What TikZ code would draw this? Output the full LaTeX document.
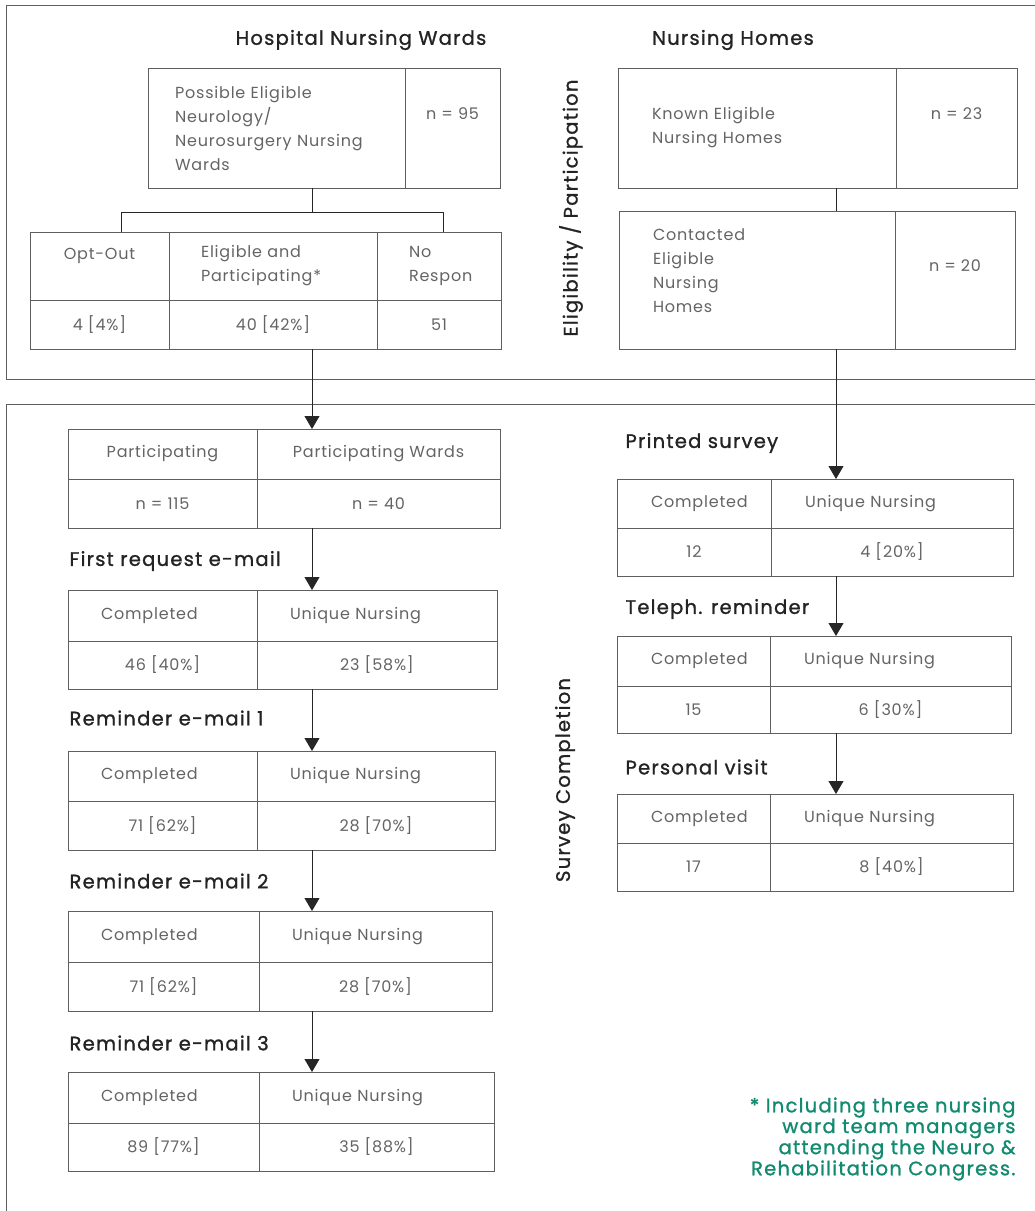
\documentclass[tikz,border=0pt]{standalone}
\usepackage{fontspec}
\setmainfont{Poppins}[LetterSpace=5]
\newfontfamily\headfont{Poppins}[LetterSpace=6.5, FakeBold=1.2]
\usetikzlibrary{positioning, arrows.meta}
\definecolor{linegray}{RGB}{95,95,95}
\definecolor{cellgray}{RGB}{100,100,100}
\definecolor{headblack}{RGB}{35,35,35}
\definecolor{noteteal}{RGB}{18,138,112}
\hyphenpenalty=10000
\exhyphenpenalty=10000
\tikzset{
cell/.style={
    draw=linegray,
    line width=0.9pt,
    inner sep=0pt,
    outer sep=0pt,
    text=cellgray,
    align=center,
    font=\fontsize{16}{24}\selectfont
},
hcell/.style={
    cell,
    align=left,
    inner xsep=33pt,
    text width=#1
},
ncell/.style={
    cell,
    text depth=28pt
},
title/.style={
    font=\headfont\fontsize{19.5}{22}\selectfont,
    text=headblack
},
stage/.style={
    title,
    anchor=west
},
link/.style={
    draw=black!85,
    line width=0.9pt
},
flow/.style={
    link,
    -{Triangle[width=15pt,length=13pt]}
},
frame/.style={
    draw=linegray,
    line width=0.9pt
}
}

\begin{document}
\begin{tikzpicture}[x=1pt, y=-1pt]
\useasboundingbox (0,0) rectangle (1035,1211);

% PANELS
\draw[frame] (1040,5) -- (6,5) -- (6,379) -- (1040,379);
\draw[frame] (1040,404) -- (6,404) -- (6,1215);

\node[title, rotate=90] (eligside) at (571,208) {Eligibility / Participation};
\node[title, rotate=90] (survside) at (565,780) {Survey Completion};

\coordinate (spine) at (312,0);
\coordinate (homespine) at (836,0);

% TOP LEFT: HOSPITAL WARDS
\node[title] (hosp) at (361,40) {Hospital Nursing Wards};

\node[hcell=203pt, inner xsep=27pt, minimum height=120pt, anchor=north west] (poss) at (148,68) {
Possible Eligible\\Neurology/\\Neurosurgery Nursing\\Wards};
\node[ncell, minimum width=95pt, minimum height=120pt, right=0pt of poss] (possn) {n = 95};

\node[cell, minimum width=139pt, minimum height=68pt, anchor=north west] (optout) at (30,232) {Opt-Out\\~};
\node[hcell=144pt, inner xsep=32pt, minimum height=68pt, right=0pt of optout] (elig) {Eligible and\\Participating*};
\node[hcell=60pt, inner xsep=32pt, minimum height=68pt, right=0pt of elig] (noresp) {No\\Respon};
\node[cell, minimum width=139pt, minimum height=49pt, below=0pt of optout] (optoutv) {4 [4\%]};
\node[cell, minimum width=208pt, minimum height=49pt, below=0pt of elig] (eligv) {40 [42\%]};
\node[cell, minimum width=124pt, minimum height=49pt, below=0pt of noresp] (norespv) {51};

\coordinate (forkl) at (121,212);
\coordinate (forkr) at (443,212);
\draw[link] (poss.south -| spine) -- (spine |- forkl);
\draw[link] (forkl |- optout.north) -- (forkl) -- (forkr) -- (forkr |- noresp.north);

% TOP RIGHT: NURSING HOMES
\node[title] (homes) at (733,40) {Nursing Homes};

\node[hcell=210pt, inner xsep=34pt, minimum height=120pt, anchor=north west] (known) at (618,68) {
Known Eligible\\Nursing Homes};
\node[ncell, minimum width=121pt, minimum height=120pt, right=0pt of known] (knownn) {n = 23};

\node[hcell=208pt, inner xsep=34pt, minimum height=138pt, anchor=north west] (contact) at (619,211) {
Contacted\\Eligible\\Nursing\\Homes\\[-6pt]~};
\node[ncell, minimum width=120pt, minimum height=138pt, right=0pt of contact] (contactn) {n = 20};

\draw[link] (known.south -| homespine) -- (contact.north -| homespine);

% BOTTOM LEFT: E-MAIL ROUNDS
\node[cell, minimum width=189pt, minimum height=50pt, anchor=north west] (pstaff) at (68,429) {Participating};
\node[cell, minimum width=243pt, minimum height=50pt, right=0pt of pstaff] (pward) {Participating Wards};
\node[cell, minimum width=189pt, minimum height=49pt, below=0pt of pstaff] (pstaffv) {n = 115};
\node[cell, minimum width=243pt, minimum height=49pt, below=0pt of pward] (pwardv) {n = 40};

\node[stage] (first) at (66,561) {First request e-mail};
\node[hcell=123pt, minimum height=51pt, anchor=north west] (firstc) at (68,590) {Completed};
\node[hcell=174pt, minimum height=51pt, right=0pt of firstc] (firstu) {Unique Nursing};
\node[cell, minimum width=189pt, minimum height=48pt, below=0pt of firstc] (firstcv) {46 [40\%]};
\node[cell, minimum width=240pt, minimum height=48pt, below=0pt of firstu] (firstuv) {23 [58\%]};

\node[stage] (remone) at (66,718) {Reminder e-mail 1};
\node[hcell=123pt, minimum height=50pt, anchor=north west] (remonec) at (68,751) {Completed};
\node[hcell=172pt, minimum height=50pt, right=0pt of remonec] (remoneu) {Unique Nursing};
\node[cell, minimum width=189pt, minimum height=49pt, below=0pt of remonec] (remonecv) {71 [62\%]};
\node[cell, minimum width=238pt, minimum height=49pt, below=0pt of remoneu] (remoneuv) {28 [70\%]};

\node[stage] (remtwo) at (66,881) {Reminder e-mail 2};
\node[hcell=125pt, minimum height=51pt, anchor=north west] (remtwoc) at (68,911) {Completed};
\node[hcell=167pt, minimum height=51pt, right=0pt of remtwoc] (remtwou) {Unique Nursing};
\node[cell, minimum width=191pt, minimum height=49pt, below=0pt of remtwoc] (remtwocv) {71 [62\%]};
\node[cell, minimum width=233pt, minimum height=49pt, below=0pt of remtwou] (remtwouv) {28 [70\%]};

\node[stage] (remthree) at (66,1043) {Reminder e-mail 3};
\node[hcell=125pt, minimum height=51pt, anchor=north west] (remthreec) at (68,1072) {Completed};
\node[hcell=169pt, minimum height=51pt, right=0pt of remthreec] (remthreeu) {Unique Nursing};
\node[cell, minimum width=191pt, minimum height=48pt, below=0pt of remthreec] (remthreecv) {89 [77\%]};
\node[cell, minimum width=235pt, minimum height=48pt, below=0pt of remthreeu] (remthreeuv) {35 [88\%]};

% BOTTOM RIGHT: PAPER ROUNDS
\node[stage] (printed) at (622,443) {Printed survey};
\node[hcell=86pt, inner xsep=34pt, minimum height=49pt, anchor=north west] (printedc) at (617,479) {Completed};
\node[hcell=174pt, inner xsep=34pt, minimum height=49pt, right=0pt of printedc] (printedu) {Unique Nursing};
\node[cell, minimum width=154pt, minimum height=48pt, below=0pt of printedc] (printedcv) {12};
\node[cell, minimum width=242pt, minimum height=48pt, below=0pt of printedu] (printeduv) {4 [20\%]};

\node[stage] (phone) at (622,609) {Teleph. reminder};
\node[hcell=85pt, inner xsep=34pt, minimum height=50pt, anchor=north west] (phonec) at (617,636) {Completed};
\node[hcell=173pt, inner xsep=34pt, minimum height=50pt, right=0pt of phonec] (phoneu) {Unique Nursing};
\node[cell, minimum width=153pt, minimum height=47pt, below=0pt of phonec] (phonecv) {15};
\node[cell, minimum width=241pt, minimum height=47pt, below=0pt of phoneu] (phoneuv) {6 [30\%]};

\node[stage] (visit) at (622,767) {Personal visit};
\node[hcell=85pt, inner xsep=34pt, minimum height=49pt, anchor=north west] (visitc) at (617,794) {Completed};
\node[hcell=175pt, inner xsep=34pt, minimum height=49pt, right=0pt of visitc] (visitu) {Unique Nursing};
\node[cell, minimum width=153pt, minimum height=48pt, below=0pt of visitc] (visitcv) {17};
\node[cell, minimum width=243pt, minimum height=48pt, below=0pt of visitu] (visituv) {8 [40\%]};

% FOOTNOTE
\node[font=\headfont\fontsize{19.5}{18.5}\selectfont, text=noteteal, align=right, anchor=east] (note) at (1019,1139) {
* Including three nursing\\ward team managers\\attending the Neuro \&\\Rehabilitation Congress.};

% ARROWS
\draw[flow] (eligv.south -| spine) -- (pward.north -| spine);
\draw[flow] (pwardv.south -| spine) -- (firstu.north -| spine);
\draw[flow] (firstuv.south -| spine) -- (remoneu.north -| spine);
\draw[flow] (remoneuv.south -| spine) -- (remtwou.north -| spine);
\draw[flow] (remtwouv.south -| spine) -- (remthreeu.north -| spine);
\draw[flow] (contact.south -| homespine) -- (printedu.north -| homespine);
\draw[flow] (printeduv.south -| homespine) -- (phoneu.north -| homespine);
\draw[flow] (phoneuv.south -| homespine) -- (visitu.north -| homespine);

\end{tikzpicture}
\end{document}
